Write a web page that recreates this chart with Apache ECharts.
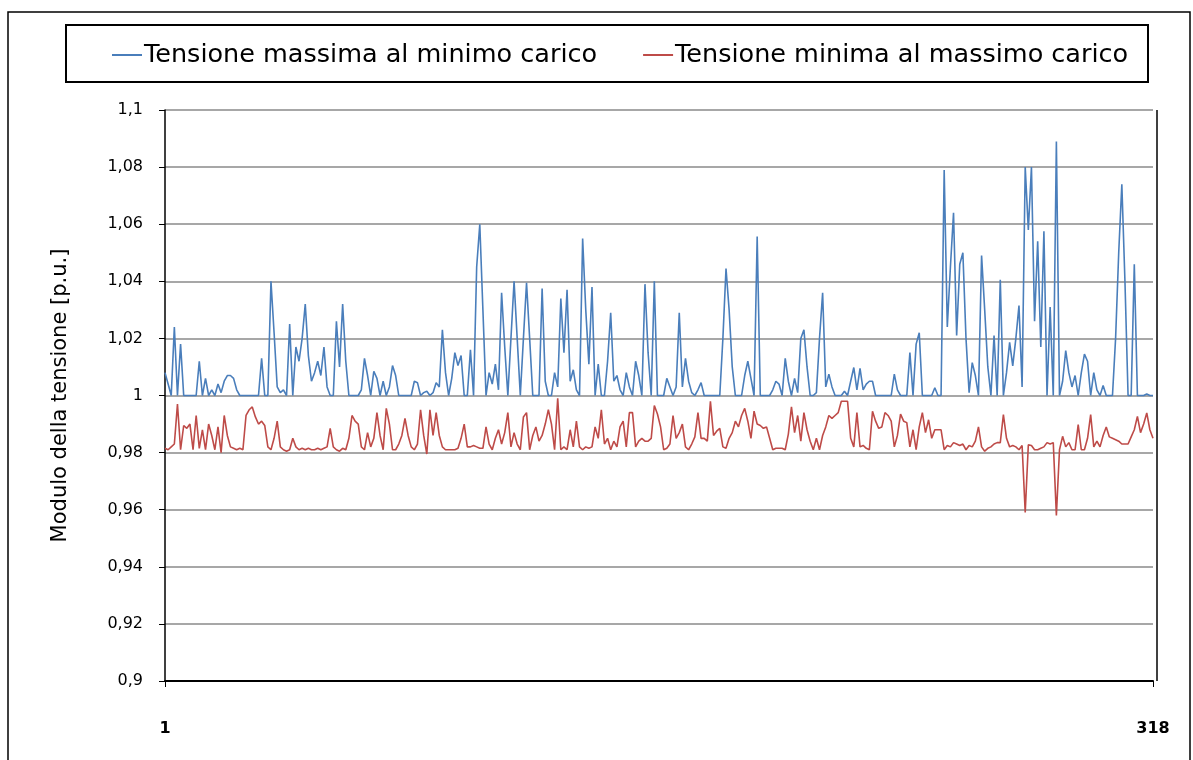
<!DOCTYPE html>
<html>
<head>
<meta charset="utf-8">
<script src="https://cdn.jsdelivr.net/npm/echarts@6/dist/echarts.min.js"></script>
<style>
html,body{margin:0;padding:0;background:#fff;}
#chart{width:1193px;height:760px;}
</style>
</head>
<body>
<div id="chart"></div>
<script>
// Bus index (category axis), 1..318
const nodeCount = 318;
const categories = Array.from({length: nodeCount}, (_, i) => String(i + 1));

const seriesNames = ['Tensione massima al minimo carico', 'Tensione minima al massimo carico'];

// Tensione massima al minimo carico [p.u.]
const vMaxMinLoad = [
1.008,1.004,1.0,1.024,1.0,1.018,1.0,1.0,1.0,1.0,
1.0,1.012,1.0,1.006,1.0,1.002,1.0,1.004,1.001,1.005,
1.007,1.007,1.006,1.002,1.0,1.0,1.0,1.0,1.0,1.0,
1.0,1.013,1.0,1.0,1.04,1.022,1.003,1.001,1.002,1.0,
1.025,1.0,1.017,1.012,1.02,1.032,1.014,1.005,1.008,1.012,
1.007,1.017,1.003,1.0,1.0,1.026,1.01,1.032,1.012,1.0,
1.0,1.0,1.0,1.002,1.013,1.007,1.0,1.0085,1.006,1.0,
1.005,1.0,1.003,1.0105,1.007,1.0,1.0,1.0,1.0,1.0,
1.005,1.0045,1.0,1.001,1.0015,1.0,1.001,1.0045,1.003,1.023,
1.008,1.0,1.006,1.015,1.0105,1.014,1.0,1.0,1.016,1.0,
1.045,1.06,1.03,1.0,1.008,1.004,1.011,1.002,1.036,1.017,
1.0,1.02,1.04,1.02,1.0,1.02,1.0395,1.02,1.0,1.0,
1.0,1.0375,1.005,1.0,1.0,1.008,1.003,1.034,1.015,1.037,
1.005,1.009,1.002,1.0,1.055,1.03,1.011,1.038,1.0,1.011,
1.0,1.0,1.012,1.029,1.005,1.007,1.002,1.0,1.008,1.003,
1.0,1.012,1.007,1.0,1.039,1.015,1.0,1.04,1.0,1.0,
1.0,1.006,1.003,1.0,1.003,1.029,1.003,1.013,1.005,1.001,
1.0,1.002,1.0045,1.0,1.0,1.0,1.0,1.0,1.0,1.02,
1.0445,1.03,1.01,1.0,1.0,1.0,1.007,1.012,1.006,1.0,
1.0557,1.0,1.0,1.0,1.0,1.002,1.005,1.004,1.0,1.013,
1.005,1.0,1.006,1.001,1.02,1.023,1.01,1.0,1.0,1.001,
1.02,1.036,1.003,1.0075,1.003,1.0,1.0,1.0,1.0015,1.0,
1.005,1.0098,1.002,1.0095,1.002,1.004,1.005,1.005,1.0,1.0,
1.0,1.0,1.0,1.0,1.0075,1.002,1.0,1.0,1.0,1.015,
1.0,1.018,1.022,1.0,1.0,1.0,1.0,1.0027,1.0,1.0,
1.079,1.024,1.045,1.064,1.021,1.046,1.05,1.02,1.001,1.0115,
1.007,1.0,1.049,1.03,1.01,1.0,1.021,1.0,1.0405,1.0,
1.008,1.0186,1.0104,1.02,1.0315,1.003,1.08,1.058,1.08,1.026,
1.054,1.017,1.0575,1.0,1.031,1.0,1.089,1.0,1.005,1.0157,
1.008,1.003,1.007,1.0,1.008,1.0145,1.012,1.0,1.008,1.002,
1.0,1.0035,1.0,1.0,1.0,1.02,1.05,1.074,1.04,1.0,
1.0,1.046,1.0,1.0,1.0,1.0005,1.0,1.0
];

// Tensione minima al massimo carico [p.u.]
const vMinMaxLoad = [
0.9815,0.981,0.982,0.983,0.997,0.981,0.9895,0.9885,0.99,0.981,
0.993,0.9815,0.988,0.981,0.99,0.986,0.981,0.989,0.98,0.993,
0.986,0.982,0.9815,0.981,0.9815,0.981,0.993,0.995,0.996,0.9925,
0.99,0.991,0.9895,0.982,0.981,0.985,0.991,0.982,0.981,0.9805,
0.981,0.985,0.982,0.981,0.9815,0.981,0.9815,0.981,0.981,0.9815,
0.981,0.9815,0.982,0.9885,0.982,0.981,0.9805,0.9815,0.981,0.985,
0.993,0.991,0.99,0.982,0.981,0.987,0.982,0.985,0.994,0.986,
0.981,0.9955,0.99,0.981,0.981,0.983,0.986,0.992,0.986,0.982,
0.981,0.983,0.995,0.986,0.9795,0.995,0.986,0.994,0.986,0.982,
0.981,0.981,0.981,0.981,0.9815,0.985,0.99,0.982,0.982,0.9825,
0.982,0.9815,0.9815,0.989,0.983,0.981,0.985,0.988,0.983,0.987,
0.994,0.982,0.987,0.983,0.981,0.9925,0.994,0.981,0.986,0.989,
0.984,0.986,0.99,0.995,0.99,0.981,0.999,0.981,0.982,0.981,
0.988,0.982,0.991,0.982,0.981,0.982,0.9815,0.982,0.989,0.985,
0.995,0.983,0.985,0.981,0.984,0.982,0.989,0.991,0.982,0.994,
0.994,0.982,0.984,0.985,0.984,0.984,0.985,0.9965,0.9935,0.989,
0.981,0.9815,0.983,0.993,0.985,0.987,0.99,0.982,0.981,0.983,
0.9855,0.994,0.985,0.985,0.984,0.998,0.986,0.9875,0.9885,0.982,
0.9815,0.985,0.987,0.991,0.989,0.993,0.9955,0.991,0.985,0.9945,
0.99,0.9895,0.9885,0.989,0.985,0.981,0.9815,0.9815,0.9815,0.981,
0.9865,0.996,0.987,0.993,0.984,0.994,0.988,0.984,0.981,0.985,
0.981,0.986,0.989,0.993,0.992,0.993,0.994,0.998,0.998,0.998,
0.985,0.982,0.994,0.982,0.9825,0.9815,0.981,0.9945,0.991,0.9885,
0.989,0.994,0.993,0.991,0.982,0.986,0.9935,0.991,0.9905,0.982,
0.988,0.981,0.989,0.994,0.987,0.9915,0.985,0.988,0.988,0.988,
0.981,0.9825,0.982,0.9835,0.983,0.9825,0.983,0.981,0.9825,0.982,
0.984,0.989,0.982,0.9805,0.9815,0.982,0.983,0.9835,0.9835,0.9933,
0.985,0.982,0.9825,0.982,0.981,0.9825,0.959,0.9827,0.9825,0.981,
0.981,0.9815,0.982,0.9835,0.983,0.9835,0.958,0.981,0.9857,0.982,
0.9835,0.981,0.981,0.9898,0.981,0.981,0.985,0.9933,0.982,0.984,
0.982,0.986,0.989,0.9855,0.985,0.9845,0.984,0.983,0.983,0.983,
0.9855,0.988,0.9927,0.987,0.99,0.9939,0.988,0.985
];

const yMin = 0.9, yMax = 1.1, yStep = 0.02;
const yTitle = 'Modulo della tensione [p.u.]';

const chart = echarts.init(document.getElementById('chart'), null, {renderer: 'canvas'});
const FONT = 'DejaVu Sans';
const showEnds = (i) => i === 0 || i === nodeCount - 1;

chart.setOption({
  animation: false,
  backgroundColor: '#ffffff',
  textStyle: {fontFamily: FONT},
  graphic: [
    {type: 'rect', shape: {x: 8, y: 12, width: 1182, height: 770}, style: {fill: 'none', stroke: '#000', lineWidth: 1.5}, silent: true, z: -1},
    {type: 'rect', shape: {x: 66, y: 25, width: 1082, height: 57}, style: {fill: 'none', stroke: '#000', lineWidth: 2}, silent: true, z: -1},
    {type: 'line', shape: {x1: 1157, y1: 110, x2: 1157, y2: 681}, style: {stroke: '#000', lineWidth: 1.5}, silent: true}
  ],
  legend: {
    left: 107,
    top: 37,
    itemWidth: 30,
    itemHeight: 2,
    itemGap: 46,
    icon: 'rect',
    textStyle: {fontFamily: FONT, fontSize: 25.5, color: '#000', padding: [0, 0, 0, -3]},
    data: seriesNames
  },
  grid: {left: 165, right: 40, top: 110, bottom: 79, containLabel: false},
  xAxis: {
    type: 'category',
    data: categories,
    boundaryGap: false,
    axisLine: {lineStyle: {color: '#000', width: 2}},
    axisTick: {show: true, interval: showEnds, length: 6, lineStyle: {color: '#000', width: 1}},
    axisLabel: {interval: showEnds, margin: 40, fontFamily: FONT, fontSize: 16, fontWeight: 'bold', color: '#000'},
    splitLine: {show: false}
  },
  yAxis: {
    type: 'value',
    min: yMin,
    max: yMax,
    interval: yStep,
    name: yTitle,
    nameLocation: 'middle',
    nameRotate: 90,
    nameGap: 94,
    nameTextStyle: {fontFamily: FONT, fontSize: 21, color: '#000'},
    axisLine: {show: true, lineStyle: {color: '#000', width: 1.5}},
    axisTick: {show: true, length: 6, lineStyle: {color: '#000', width: 1}},
    axisLabel: {
      margin: 22, fontFamily: FONT, fontSize: 16, color: '#000',
      formatter: (v) => String(parseFloat(v.toFixed(2))).replace('.', ',')
    },
    splitLine: {show: true, lineStyle: {color: '#8a8a8a', width: 1.5}}
  },
  series: [
    {
      name: seriesNames[0], type: 'line', data: vMaxMinLoad, symbol: 'none',
      lineStyle: {color: '#4a7ebb', width: 1.6}, itemStyle: {color: '#4a7ebb'}
    },
    {
      name: seriesNames[1], type: 'line', data: vMinMaxLoad, symbol: 'none',
      lineStyle: {color: '#be4b48', width: 1.6}, itemStyle: {color: '#be4b48'}
    }
  ]
});
</script>
</body>
</html>
